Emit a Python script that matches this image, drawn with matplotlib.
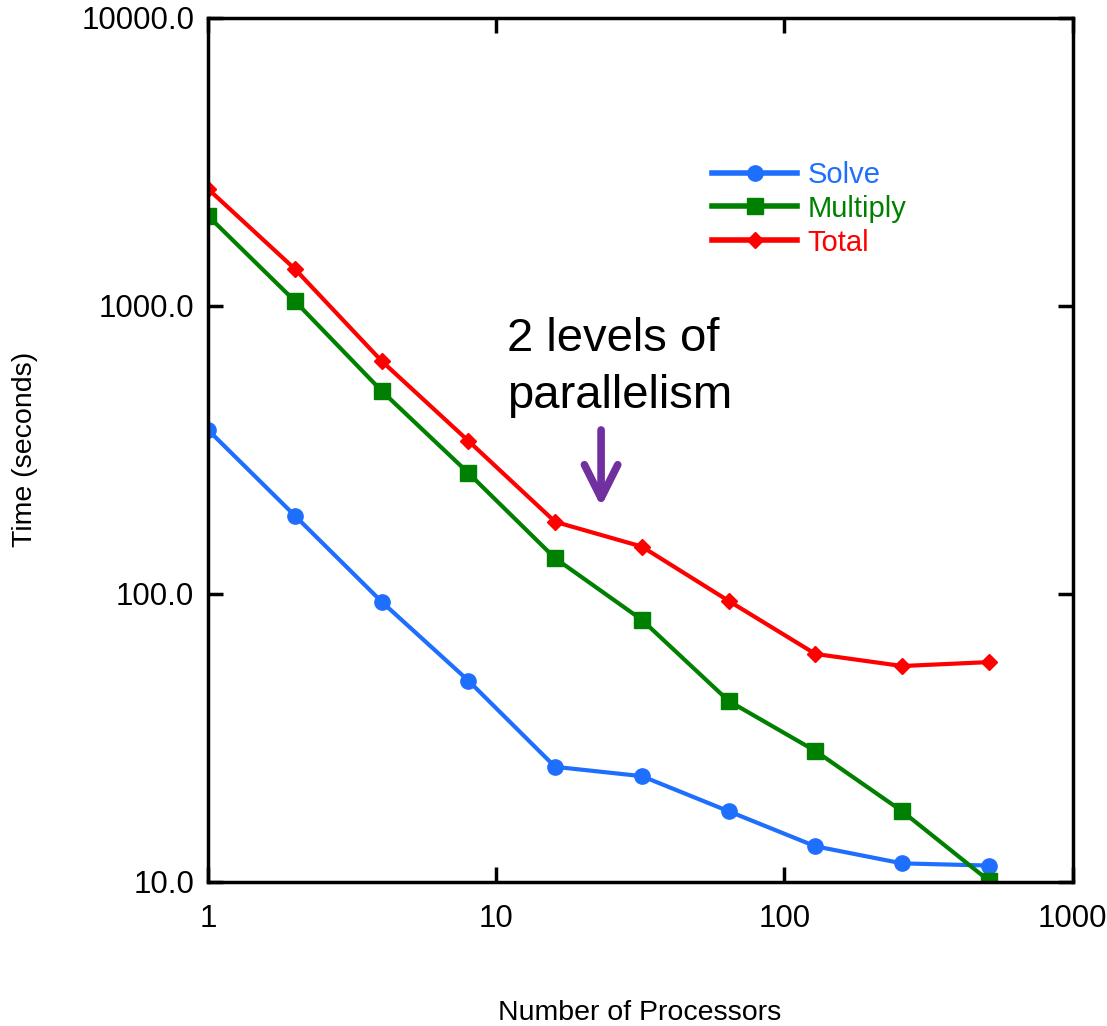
import numpy as np
import matplotlib.pyplot as plt
from matplotlib.ticker import FixedLocator, FuncFormatter, NullLocator

plt.rcParams['font.family'] = ['Liberation Sans', 'DejaVu Sans']

procs = [1, 2, 4, 8, 16, 32, 64, 128, 256, 512]
solve = [371, 187, 94, 50, 25.1, 23.3, 17.6, 13.3, 11.6, 11.4]
multiply = [2053, 1040, 507, 263, 133, 81.3, 42.5, 28.5, 17.6, 10.1]
total = [2548, 1344, 644, 340, 178, 146, 94.6, 61.9, 56.2, 58.0]

fig = plt.figure(figsize=(11.07, 10.26), dpi=100)
ax = fig.add_axes([0.188, 0.1404, 0.781, 0.8421])

ax.plot(procs, solve, color='#1f6fff', lw=3, marker='o', ms=11, label='Solve')
ax.plot(procs, multiply, color='#008000', lw=3, marker='s', ms=11, label='Multiply')
ax.plot(procs, total, color='#ff0000', lw=3, marker='D', ms=8.5, label='Total')

ax.set_xscale('log')
ax.set_yscale('log')
ax.set_xlim(1, 1000)
ax.set_ylim(10, 10000)
ax.xaxis.set_major_locator(FixedLocator([1, 10, 100, 1000]))
ax.yaxis.set_major_locator(FixedLocator([10, 100, 1000, 10000]))
ax.xaxis.set_minor_locator(NullLocator())
ax.yaxis.set_minor_locator(NullLocator())
ax.xaxis.set_major_formatter(FuncFormatter(lambda v, _: f'{v:.0f}'))
ax.yaxis.set_major_formatter(FuncFormatter(lambda v, _: f'{v:.1f}'))
ax.tick_params(which='major', direction='in', length=11, width=2.5,
               top=True, right=True, labelsize=22.5)
ax.tick_params(axis='x', pad=16)
ax.tick_params(axis='y', pad=10)
for s in ax.spines.values():
    s.set_linewidth(2.5)

fig.text(0.578, 0.013, 'Number of Processors', fontsize=20.5, ha='center', va='center')
fig.text(0.023, 0.562, 'Time (seconds)', fontsize=20.5, ha='center', va='center',
         rotation=90)

ax.text(10.9, 915, '2 levels of\nparallelism', fontsize=34, ha='left', va='top',
        linespacing=1.37)
ax.annotate('', xy=(23.1, 201), xytext=(23.1, 371),
            arrowprops=dict(arrowstyle='->,head_length=1.2,head_width=0.6',
                            mutation_scale=20, shrinkA=0, shrinkB=0,
                            color='#7030a0', lw=5.5, capstyle='round',
                            joinstyle='round'))

leg = ax.legend(loc='upper left', bbox_to_anchor=(0.553, 0.865), frameon=False,
                fontsize=21, handlelength=2.9, labelspacing=0.2, handletextpad=0.35)
for txt, line in zip(leg.get_texts(), leg.get_lines()):
    txt.set_color(line.get_color())
    line.set_linewidth(4)

plt.savefig('out.png', dpi=100)
